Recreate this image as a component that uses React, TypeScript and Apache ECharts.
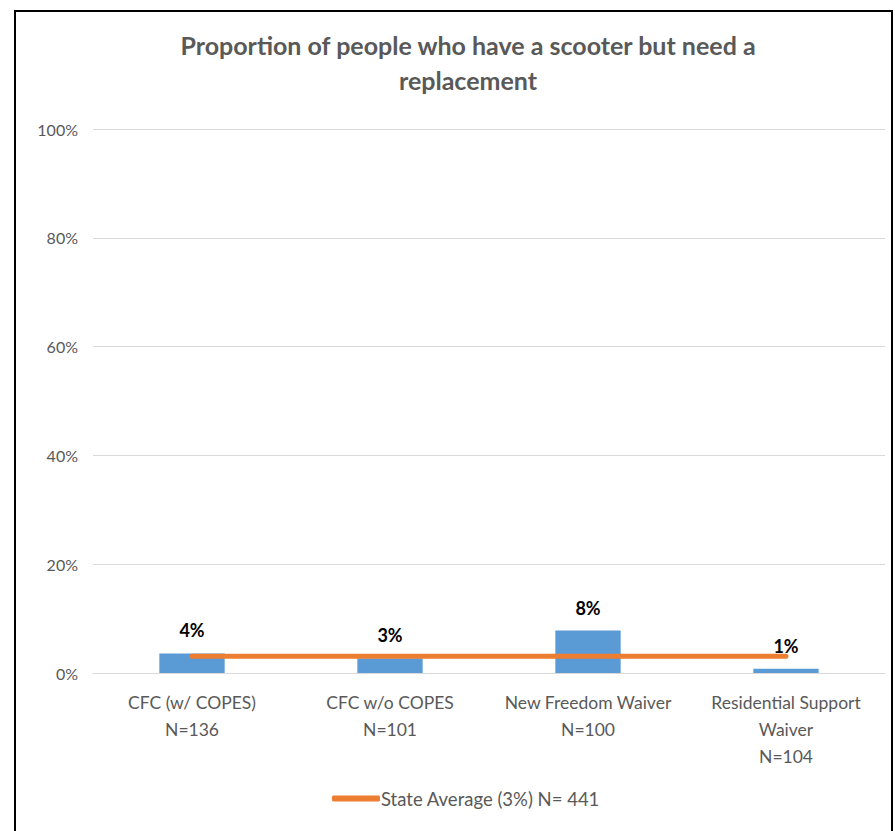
import React, { useEffect, useRef } from "react";
import * as echarts from "echarts";

const categories = [
  "CFC (w/ COPES)\nN=136",
  "CFC w/o COPES\nN=101",
  "New Freedom Waiver\nN=100",
  "Residential Support\nWaiver\nN=104",
];
const barValues = [3.6, 2.7, 7.8, 0.8];
const stateAverage = [3.1, 3.1, 3.1, 3.1];
const stateAverageName = "State Average (3%) N= 441";
const titleText = "Proportion of people who have a scooter but need a\nreplacement";

export default function App() {
  const ref = useRef<HTMLDivElement>(null);
  useEffect(() => {
    const chart = echarts.init(ref.current!, null, { renderer: "svg" });
    const font = "Lato, 'Open Sans', sans-serif";
    chart.setOption({
      animation: false,
      backgroundColor: "#ffffff",
      textStyle: { fontFamily: font },
      title: {
        text: titleText,
        left: 463,
        top: 22,
        textAlign: "center",
        textStyle: {
          fontFamily: font,
          fontSize: 25,
          fontWeight: "bold",
          color: "#595959",
          lineHeight: 35,
          align: "center",
        },
      },
      graphic: [
        {
          type: "rect",
          shape: { x: 15, y: 11, width: 877, height: 830 },
          style: { fill: "none", stroke: "#000", lineWidth: 2 },
          silent: true,
          z: 100,
        },
      ],
      legend: {
        data: [stateAverageName],
        bottom: 18,
        left: 327,
        icon: "roundRect",
        itemWidth: 48,
        itemHeight: 6,
        itemGap: 4,
        textStyle: { fontFamily: font, fontSize: 18.5, color: "#595959", padding: [0, 0, 0, -4] },
      },
      grid: { left: 93, right: 10, top: 129, bottom: 158 },
      xAxis: {
        type: "category",
        data: categories,
        axisTick: { show: false },
        axisLine: { lineStyle: { color: "#D9D9D9", width: 1 } },
        axisLabel: {
          color: "#595959",
          fontFamily: font,
          fontSize: 17.5,
          lineHeight: 27,
          margin: 16,
          interval: 0,
        },
      },
      yAxis: {
        type: "value",
        min: 0,
        max: 100,
        interval: 20,
        axisLine: { show: false },
        axisTick: { show: false },
        splitLine: { lineStyle: { color: "#D9D9D9", width: 1 } },
        axisLabel: {
          formatter: "{value}%",
          color: "#595959",
          fontFamily: font,
          fontSize: 16,
          margin: 15,
        },
      },
      series: [
        {
          type: "bar",
          name: "Proportion",
          data: barValues,
          barWidth: "33%",
          itemStyle: { color: "#5B9BD5" },
          label: {
            show: true,
            position: "top",
            distance: 14,
            formatter: (p: any) => Math.round(p.value) + "%",
            color: "#000",
            fontFamily: font,
            fontWeight: "bold",
            fontSize: 18,
          },
        },
        {
          type: "line",
          name: stateAverageName,
          data: stateAverage,
          symbol: "none",
          lineStyle: { color: "#ED7D31", width: 5, cap: "round" },
          itemStyle: { color: "#ED7D31" },
          z: 5,
        },
      ],
    });
    return () => chart.dispose();
  }, []);
  return (
    <div
      ref={ref}
      style={{ position: "fixed", left: 0, top: 0, width: 895, height: 831 }}
    />
  );
}
